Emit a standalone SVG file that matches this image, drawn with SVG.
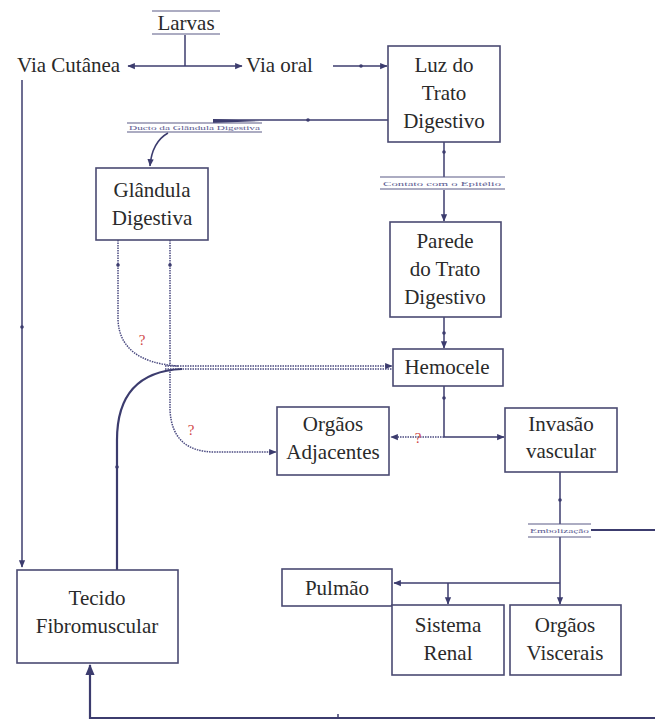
<svg xmlns="http://www.w3.org/2000/svg" width="655" height="724" viewBox="0 0 655 724">
<style>
.box{fill:#fff;stroke:#4a4a72;stroke-width:1.6}
.t{font-family:'Liberation Serif','Times New Roman','DejaVu Serif',serif;font-size:21px;fill:#2a2a2a;text-anchor:middle}
.tl{font-family:'Liberation Serif','Times New Roman','DejaVu Serif',serif;font-size:21px;fill:#2a2a2a}
.sm{font-family:'Liberation Serif','Times New Roman','DejaVu Serif',serif;font-size:7px;fill:#5a5a90}
.c{fill:none;stroke:#3c3c6e;stroke-width:1.5}
.th{fill:none;stroke:#3c3c6e;stroke-width:2.2}
.dot{fill:none;stroke:#4a4a80;stroke-width:1.5;stroke-dasharray:1.5 1}
.q{font-family:'Liberation Serif','Times New Roman','DejaVu Serif',serif;font-size:15px;fill:#d04848;text-anchor:middle}
.ul{stroke:#5a5a86;stroke-width:1.2}
</style>
<defs>
<marker id="a" viewBox="0 0 6 6" refX="5.5" refY="3" markerWidth="5" markerHeight="5" orient="auto"><path d="M0,0.5 L6,3 L0,5.5 z" fill="#3c3c6e"/></marker>
</defs>
<g id="connectors">
<path class="c" d="M185,35 V66"/>
<path class="c" d="M185,66 H128" marker-end="url(#a)"/>
<path class="c" d="M185,66 H242" marker-end="url(#a)"/>
<path class="c" d="M333,66 H387" marker-end="url(#a)"/>
<circle cx="361" cy="66" r="1.8" fill="#3c3c6e"/>
<path class="c" d="M388,120 H213"/>
<path d="M260,121 L213,119 L213,123 z" fill="#3c3c6e"/>
<circle cx="308" cy="120" r="1.8" fill="#3c3c6e"/>
<path class="c" d="M168,133 Q152,142 150,166" marker-end="url(#a)"/>
<path class="c" d="M22,80 V567" marker-end="url(#a)"/>
<circle cx="22" cy="327" r="1.8" fill="#3c3c6e"/>
<path class="c" d="M444,142 V177"/>
<path class="c" d="M444,190 V221" marker-end="url(#a)"/>
<circle cx="444" cy="152" r="1.8" fill="#3c3c6e"/>
<path class="c" d="M444,317 V348" marker-end="url(#a)"/>
<circle cx="444" cy="333" r="1.8" fill="#3c3c6e"/>
<path class="c" d="M444,386 V437 H504" marker-end="url(#a)"/>
<circle cx="444" cy="398" r="1.8" fill="#3c3c6e"/>
<path class="dot" d="M444,437 H391" marker-end="url(#a)"/>
<path class="dot" d="M118,240 V320 Q120,362 178,366"/>
<path class="dot" d="M170,240 V366"/>
<circle cx="118" cy="265" r="1.8" fill="#3c3c6e"/>
<circle cx="170" cy="265" r="1.8" fill="#3c3c6e"/>
<path class="dot" d="M165,366 H392" marker-end="url(#a)"/>
<path class="dot" d="M165,369 H392"/>
<path class="th" d="M117,570 V440 Q117,372 182,369"/>
<circle cx="117" cy="467" r="1.8" fill="#3c3c6e"/>
<path class="dot" d="M170,369 V410 Q172,452 215,452 H276" marker-end="url(#a)"/>
<path class="c" d="M560,472 V524"/>
<path class="c" d="M560,537 V604" marker-end="url(#a)"/>
<circle cx="560" cy="500" r="1.8" fill="#3c3c6e"/>
<path class="th" d="M591,530 H655"/>
<path class="c" d="M560,583 H394" marker-end="url(#a)"/>
<path class="c" d="M448,583 V604" marker-end="url(#a)"/>
<path class="th" d="M655,718 H90 V665" marker-end="url(#a)"/>
<path d="M338,714 v4" class="c"/>
</g>
<g id="larvas">
<line class="ul" x1="152" y1="11" x2="220" y2="11"/>
<text class="t" x="186" y="30">Larvas</text>
<line class="ul" x1="152" y1="34" x2="220" y2="34"/>
</g>
<g id="via-cutanea"><text class="tl" x="17" y="72">Via Cutânea</text></g>
<g id="via-oral"><text class="tl" x="246" y="72">Via oral</text></g>
<g id="luz">
<rect class="box" x="388" y="46" width="112" height="96"/>
<text class="t" x="444" y="72">Luz do</text>
<text class="t" x="444" y="100">Trato</text>
<text class="t" x="444" y="128">Digestivo</text>
</g>
<g id="label-ducto">
<line class="ul" x1="127" y1="123" x2="262" y2="123"/>
<text class="sm" x="129" y="130" textLength="131" lengthAdjust="spacingAndGlyphs">Ducto da Glândula Digestiva</text>
<line class="ul" x1="127" y1="132" x2="262" y2="132"/>
</g>
<g id="label-contato">
<line class="ul" x1="380" y1="177" x2="505" y2="177"/>
<text class="sm" x="383" y="186" textLength="118" lengthAdjust="spacingAndGlyphs">Contato com o Epitélio</text>
<line class="ul" x1="380" y1="189" x2="505" y2="189"/>
</g>
<g id="glandula">
<rect class="box" x="96" y="168" width="112" height="72"/>
<text class="t" x="152" y="197">Glândula</text>
<text class="t" x="152" y="225">Digestiva</text>
</g>
<g id="parede">
<rect class="box" x="390" y="222" width="111" height="95"/>
<text class="t" x="445" y="248">Parede</text>
<text class="t" x="445" y="276">do Trato</text>
<text class="t" x="445" y="304">Digestivo</text>
</g>
<g id="hemocele">
<rect class="box" x="393" y="349" width="110" height="37"/>
<text class="t" x="447" y="374">Hemocele</text>
</g>
<g id="orgaos-adjacentes">
<rect class="box" x="277" y="407" width="112" height="68"/>
<text class="t" x="333" y="431">Orgãos</text>
<text class="t" x="333" y="459">Adjacentes</text>
</g>
<g id="invasao">
<rect class="box" x="505" y="408" width="112" height="64"/>
<text class="t" x="561" y="431">Invasão</text>
<text class="t" x="561" y="458">vascular</text>
</g>
<g id="q-marks">
<text class="q" x="142" y="345">?</text>
<text class="q" x="191" y="435">?</text>
<text class="q" x="418" y="443">?</text>
</g>
<g id="label-embolizacao">
<line class="ul" x1="528" y1="524" x2="591" y2="524"/>
<text class="sm" x="530" y="533" textLength="59" lengthAdjust="spacingAndGlyphs">Embolização</text>
<line class="ul" x1="528" y1="537" x2="591" y2="537"/>
</g>
<g id="pulmao">
<rect class="box" x="282" y="569" width="110" height="37"/>
<text class="t" x="337" y="595">Pulmão</text>
</g>
<g id="sistema-renal">
<rect class="box" x="392" y="605" width="112" height="70"/>
<text class="t" x="448" y="632">Sistema</text>
<text class="t" x="448" y="660">Renal</text>
</g>
<g id="orgaos-viscerais">
<rect class="box" x="510" y="605" width="111" height="70"/>
<text class="t" x="565" y="632">Orgãos</text>
<text class="t" x="565" y="660">Viscerais</text>
</g>
<g id="tecido">
<rect class="box" x="17" y="570" width="161" height="93"/>
<text class="t" x="97" y="605">Tecido</text>
<text class="t" x="97" y="633">Fibromuscular</text>
</g>
</svg>
